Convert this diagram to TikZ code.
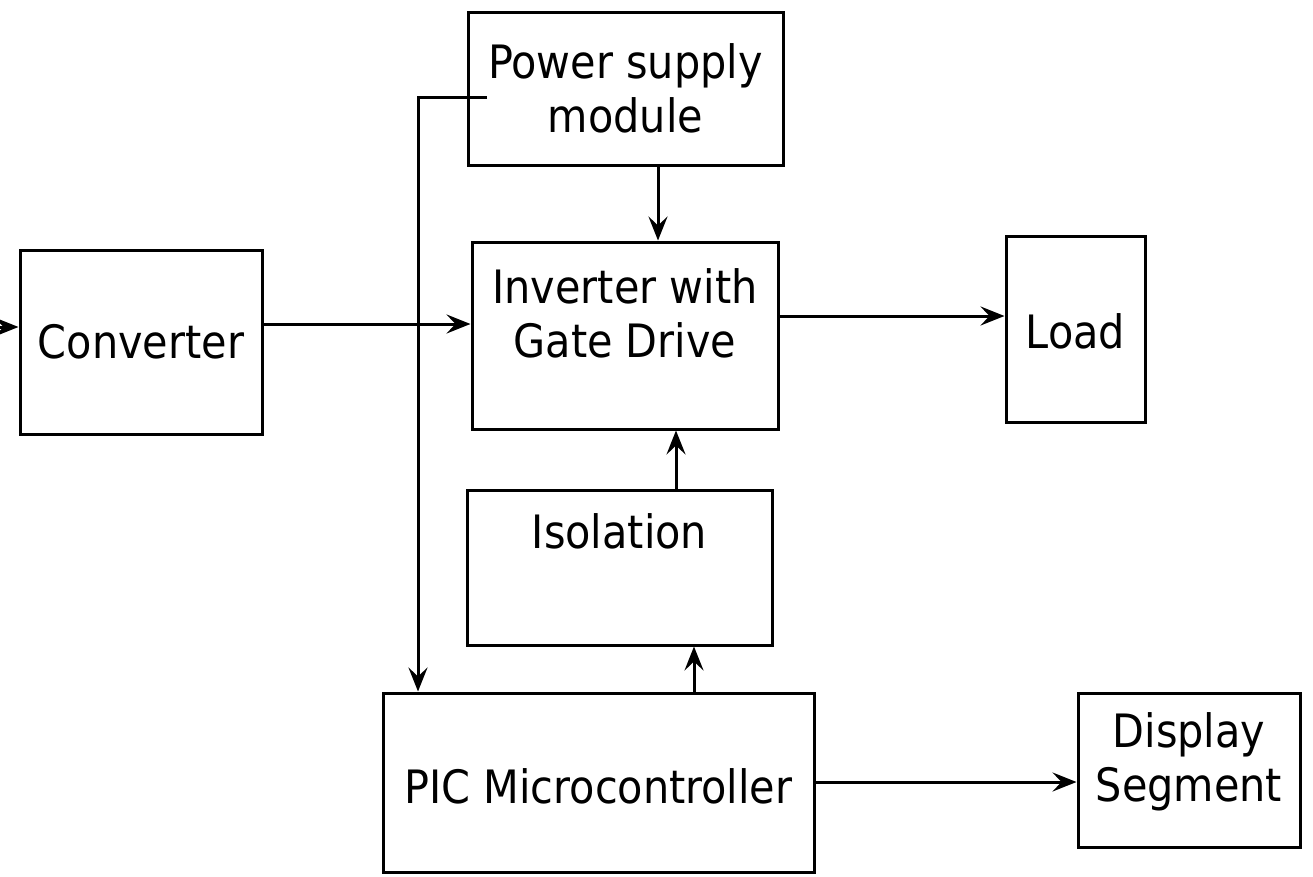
\documentclass[tikz,border=0pt]{standalone}
\usepackage{fontspec}
\setmainfont{DejaVu Sans Condensed}
\usetikzlibrary{arrows.meta,calc}
\tikzset{
  box/.style={draw, line width=3pt, inner sep=0pt, align=center},
  lbl/.style={inner sep=0pt, align=center, font=\fontsize{46}{54}\selectfont},
  arr/.style={line width=3pt, -{Stealth[length=24pt,width=19pt,inset=9pt]}}
}
\begin{document}
\begin{tikzpicture}[x=1pt,y=-1pt]
\useasboundingbox (0,0) rectangle (1313,876);
% boxes
\node[box, minimum width=315pt, minimum height=153pt] (psu) at (625.5,88.5) {};
\node[lbl] (psuT) at (625.5,88) {Power supply\\module};
\node[box, minimum width=242pt, minimum height=184pt] (conv) at (141,342) {};
\node[lbl] (convT) at (141,342) {Converter};
\node[box, minimum width=306pt, minimum height=187pt] (inv) at (625,335.5) {};
\node[lbl] (invT) at (625,313) {Inverter with\\Gate Drive};
\node[box, minimum width=139pt, minimum height=186pt] (load) at (1075.5,329) {};
\node[lbl] (loadT) at (1075.5,331) {Load};
\node[box, minimum width=305pt, minimum height=155pt] (iso) at (619.5,567.5) {};
\node[lbl, anchor=base] (isoT) at (619.5,548) {Isolation};
\node[box, minimum width=431pt, minimum height=179pt] (pic) at (598.5,782.5) {};
\node[lbl] (picT) at (598.5,786) {PIC Microcontroller};
\node[box, minimum width=222pt, minimum height=154pt] (disp) at (1189,770) {};
\node[lbl] (dispT) at (1189,762) {Display\\Segment};
% connectors
\coordinate (in) at (0,327);
\draw[arr] (in) -- (in -| conv.west);
\coordinate (ci) at (262,324);
\draw[arr] (ci -| conv.east) -- (ci -| inv.west);
\coordinate (il) at (778,316);
\draw[arr] (il -| inv.east) -- (il -| load.west);
\coordinate (pv) at (658,0);
\draw[arr] (pv |- psu.south) -- (pv |- inv.north);
\coordinate (ps1) at (487,97);
\coordinate (pc) at (418,97);
\draw[arr] (ps1) -- (pc) -- (pc |- pic.north);
\coordinate (iv) at (676,0);
\draw[arr] (iv |- iso.north) -- (iv |- inv.south);
\coordinate (pi) at (694,0);
\draw[arr] (pi |- pic.north) -- (pi |- iso.south);
\coordinate (pd) at (0,782);
\draw[arr] (pd -| pic.east) -- (pd -| disp.west);
\end{tikzpicture}
\end{document}
